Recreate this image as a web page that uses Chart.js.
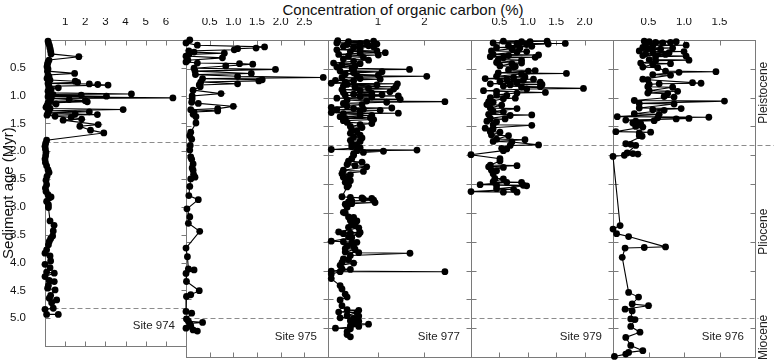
<!DOCTYPE html>
<html>
<head>
<meta charset="utf-8">
<script src="https://cdn.jsdelivr.net/npm/chart.js@4.4.1/dist/chart.umd.min.js"></script>
<style>
  body { margin: 0; background: #fff; }
  #wrap { position: relative; width: 774px; height: 364px; font-family: "Liberation Sans", Arial, sans-serif; }
  #wrap canvas { position: absolute; left: 0; top: 0; }
  #title { position: absolute; left: 0; top: 1px; width: 806px; text-align: center; font-size: 15px; color: #111; }
</style>
</head>
<body>
<div id="wrap">
  <div id="title">Concentration of organic carbon (%)</div>
  <canvas id="c0" width="774" height="364"></canvas>
  <canvas id="c1" width="774" height="364"></canvas>
  <canvas id="c2" width="774" height="364"></canvas>
  <canvas id="c3" width="774" height="364"></canvas>
  <canvas id="c4" width="774" height="364"></canvas>
</div>
<script>
// [age (Myr), organic carbon (%)], one list per site

const site974 = [
  [0.02,0.15],[0.06,0.18],[0.10,0.22],[0.15,0.25],[0.20,0.28],[0.25,0.3],[0.30,1.68],[0.36,0.2],[0.40,0.15],[0.44,0.12],
  [0.48,0.1],[0.52,0.15],[0.56,0.12],[0.60,1.47],[0.63,0.15],[0.66,0.2],[0.69,0.1],[0.72,0.25],[0.74,1.5],[0.76,1.62],
  [0.78,0.15],[0.79,2.2],[0.80,2.62],[0.81,3.13],[0.83,0.2],[0.86,0.66],[0.89,0.3],[0.92,0.15],[0.95,0.25],[0.97,4.29],
  [0.98,0.4],[0.99,1.8],[1.00,0.2],[1.01,3.05],[1.02,0.15],[1.04,6.35],[1.05,0.3],[1.07,1.2],[1.09,2.0],[1.10,0.25],
  [1.11,2.1],[1.13,0.15],[1.15,0.55],[1.18,0.1],[1.21,0.05],[1.23,0.25],[1.25,3.88],[1.27,0.2],[1.29,2.2],[1.31,0.15],
  [1.33,1.5],[1.34,2.6],[1.35,0.1],[1.37,0.5],[1.39,1.3],[1.42,1.82],[1.44,0.9],[1.52,2.64],[1.55,1.73],[1.62,2.26],
  [1.67,2.92],[1.80,0.08],[1.86,0.03],[1.91,0.0],[1.96,0.02],[2.02,0.05],[2.08,0.03],[2.14,0.0],[2.20,0.02],[2.26,0.08],
  [2.33,0.15],[2.38,0.2],[2.45,0.1],[2.52,0.05],[2.60,0.08],[2.66,0.02],[2.72,0.05],[2.78,0.15],[2.82,0.3],[2.84,0.21],
  [2.90,0.08],[2.96,0.17],[3.01,0.17],[3.25,0.25],[3.33,0.45],[3.43,0.41],[3.52,0.38],[3.57,0.28],[3.62,0.21],[3.68,0.17],
  [3.77,0.08],[3.83,0.0],[3.88,0.25],[3.97,0.28],[4.03,0.0],[4.09,0.25],[4.17,0.08],[4.19,0.46],[4.25,0.0],[4.32,0.21],
  [4.34,0.46],[4.41,0.17],[4.46,0.13],[4.49,0.5],[4.59,0.28],[4.64,0.21],[4.67,0.58],[4.72,0.33],[4.82,0.41],[4.84,0.0],
  [4.93,0.08],[4.93,0.66]
];

const site975 = [
  [0.00,0.08],[0.05,0.0],[0.09,0.24],[0.12,1.66],[0.14,1.48],[0.15,1.09],[0.17,1.02],[0.19,0.06],[0.21,0.17],[0.23,0.81],
  [0.25,0.06],[0.28,0.0],[0.31,0.77],[0.35,0.04],[0.38,0.0],[0.40,0.24],[0.41,1.13],[0.42,1.41],[0.45,0.84],[0.49,0.17],
  [0.51,1.89],[0.54,0.19],[0.58,1.38],[0.60,0.2],[0.63,1.09],[0.65,2.9],[0.67,0.35],[0.69,1.61],[0.71,1.54],[0.73,0.31],
  [0.76,1.09],[0.78,0.28],[0.81,0.3],[0.87,0.15],[0.93,0.74],[0.97,0.13],[1.02,0.13],[1.08,0.12],[1.10,0.26],[1.15,1.0],
  [1.19,0.67],[1.21,0.1],[1.23,0.67],[1.25,0.17],[1.29,0.15],[1.33,0.21],[1.44,0.21],[1.60,0.1],[1.66,0.08],[1.72,0.12],
  [1.83,0.09],[1.91,0.08],[2.03,0.1],[2.07,0.12],[2.15,0.15],[2.22,0.13],[2.26,0.15],[2.33,0.16],[2.38,0.19],[2.41,0.1],
  [2.54,0.08],[2.70,0.06],[2.77,0.26],[2.93,0.02],[3.07,0.08],[3.18,0.05],[3.32,0.29],[3.61,0.0],[3.76,0.03],[3.97,0.05],
  [3.99,0.17],[4.05,0.0],[4.19,0.01],[4.35,0.28],[4.42,0.1],[4.45,0.01],[4.71,0.0],[4.74,0.12],[4.84,0.01],[4.88,0.05],
  [4.90,0.35],[4.92,0.08],[4.96,0.1],[5.00,0.0],[5.03,0.15],[5.05,0.24]
];

const site977 = [
  [0.01,0.14],[0.02,0.91],[0.03,0.37],[0.04,0.76],[0.05,0.12],[0.06,0.62],[0.07,0.98],[0.08,0.34],[0.10,0.8],[0.11,0.26],
  [0.12,0.91],[0.13,0.48],[0.15,0.62],[0.17,0.12],[0.19,0.98],[0.20,0.41],[0.22,1.16],[0.23,0.62],[0.25,0.16],[0.26,1.01],
  [0.28,0.37],[0.30,0.69],[0.33,0.26],[0.35,0.8],[0.37,0.48],[0.40,0.05],[0.41,0.62],[0.43,0.23],[0.45,0.51],[0.47,0.12],
  [0.49,0.45],[0.51,1.68],[0.52,0.48],[0.54,0.19],[0.55,1.09],[0.57,0.48],[0.59,0.3],[0.61,1.01],[0.62,0.55],[0.63,2.05],
  [0.65,0.23],[0.67,0.62],[0.68,1.05],[0.70,0.09],[0.71,0.48],[0.73,0.3],[0.75,0.0],[0.76,1.42],[0.77,0.34],[0.78,0.98],
  [0.80,0.26],[0.81,1.39],[0.82,0.51],[0.84,0.8],[0.85,1.34],[0.86,0.23],[0.88,0.62],[0.90,1.26],[0.91,0.26],[0.92,0.87],
  [0.94,0.48],[0.95,1.09],[0.96,0.3],[0.97,1.44],[0.98,0.62],[0.99,0.87],[1.01,0.12],[1.03,1.48],[1.04,0.34],[1.06,0.76],
  [1.07,2.44],[1.08,1.19],[1.10,0.26],[1.12,0.66],[1.15,0.34],[1.17,0.0],[1.18,1.3],[1.19,0.48],[1.20,0.69],[1.21,0.12],
  [1.22,1.05],[1.24,0.62],[1.26,0.0],[1.27,1.44],[1.28,0.26],[1.30,0.62],[1.31,0.87],[1.33,0.19],[1.35,0.84],[1.36,0.3],
  [1.38,0.91],[1.40,0.26],[1.43,0.34],[1.45,0.87],[1.47,0.62],[1.50,0.41],[1.52,0.66],[1.56,0.44],[1.58,0.55],[1.62,0.41],
  [1.65,0.62],[1.68,0.48],[1.70,0.66],[1.74,0.41],[1.76,0.62],[1.80,0.44],[1.82,0.55],[1.85,0.44],[1.87,0.62],[1.90,0.0],
  [1.91,1.84],[1.92,0.55],[1.93,1.12],[1.95,0.69],[1.97,0.48],[2.00,0.48],[2.06,0.44],[2.10,0.37],[2.12,0.66],[2.16,0.34],
  [2.18,0.51],[2.20,0.76],[2.26,0.26],[2.28,0.69],[2.32,0.23],[2.34,0.41],[2.38,0.26],[2.40,0.34],[2.44,0.41],[2.47,0.3],
  [2.52,0.37],[2.55,0.34],[2.72,0.23],[2.73,0.41],[2.74,0.66],[2.75,0.87],[2.76,0.69],[2.78,0.91],[2.79,0.44],[2.81,0.37],
  [2.82,0.94],[2.84,0.44],[2.85,0.3],[2.90,0.34],[2.99,0.26],[3.00,0.3],[3.07,0.37],[3.08,0.48],[3.13,0.41],[3.14,0.55],
  [3.19,0.44],[3.20,0.51],[3.25,0.37],[3.26,0.59],[3.33,0.16],[3.34,0.62],[3.35,0.41],[3.36,0.26],[3.37,0.59],[3.42,0.37],
  [3.43,0.44],[3.49,0.0],[3.50,0.26],[3.51,0.55],[3.52,0.44],[3.57,0.34],[3.58,0.48],[3.62,0.3],[3.63,0.51],[3.68,0.3],
  [3.69,0.59],[3.70,1.69],[3.74,0.41],[3.80,0.26],[3.81,0.37],[3.86,0.23],[3.87,0.48],[3.91,0.19],[3.97,0.23],[3.98,0.41],
  [4.01,0.0],[4.02,2.44],[4.02,0.19],[4.06,0.0],[4.14,0.0],[4.26,0.19],[4.32,0.23],[4.41,0.3],[4.46,0.34],[4.51,0.19],
  [4.61,0.23],[4.68,0.34],[4.69,0.59],[4.72,0.16],[4.73,0.55],[4.78,0.34],[4.79,0.59],[4.82,0.19],[4.83,0.48],[4.87,0.41],
  [4.88,0.59],[4.92,0.48],[4.93,0.8],[4.96,0.41],[4.97,0.59],[5.00,0.09],[5.01,0.41],[5.06,0.34],[5.11,0.34],[5.15,0.41]
];

const site979 = [
  [0.02,0.57],[0.02,1.34],[0.03,0.89],[0.03,1.04],[0.05,0.39],[0.06,1.66],[0.06,0.81],[0.07,1.36],[0.08,0.98],[0.10,0.66],
  [0.11,1.07],[0.13,0.45],[0.14,0.86],[0.15,0.72],[0.19,0.36],[0.20,0.98],[0.21,0.81],[0.25,0.39],[0.26,1.19],[0.27,0.66],
  [0.29,0.34],[0.30,1.13],[0.31,0.57],[0.34,0.48],[0.35,0.89],[0.39,0.45],[0.40,0.89],[0.41,0.72],[0.45,0.51],[0.46,0.78],
  [0.47,0.75],[0.52,0.66],[0.53,1.13],[0.54,1.01],[0.57,0.48],[0.58,1.68],[0.59,0.89],[0.63,0.45],[0.64,0.95],[0.65,0.75],
  [0.67,0.25],[0.68,1.1],[0.69,0.63],[0.70,0.92],[0.72,0.51],[0.73,1.22],[0.74,0.81],[0.76,0.34],[0.77,1.25],[0.78,0.69],
  [0.80,0.57],[0.81,1.22],[0.82,0.89],[0.84,1.98],[0.85,0.98],[0.88,0.22],[0.89,0.45],[0.91,1.31],[0.92,0.81],[0.95,0.45],
  [0.96,0.63],[1.00,0.34],[1.01,0.78],[1.02,0.57],[1.07,0.31],[1.08,0.39],[1.12,0.28],[1.13,0.54],[1.18,0.34],[1.19,0.81],
  [1.24,0.39],[1.25,0.57],[1.29,0.31],[1.30,1.07],[1.31,0.69],[1.36,0.34],[1.37,0.6],[1.41,0.28],[1.42,0.45],[1.47,0.39],
  [1.48,1.07],[1.53,0.25],[1.54,0.39],[1.59,0.34],[1.60,0.51],[1.65,0.36],[1.66,0.66],[1.72,0.45],[1.73,0.95],[1.76,0.39],
  [1.77,0.72],[1.82,1.19],[1.83,0.69],[1.88,0.54],[1.89,0.63],[1.92,0.57],[1.99,0.0],[2.06,0.51],[2.10,0.51],[2.17,0.34],
  [2.18,0.81],[2.20,0.31],[2.21,0.57],[2.26,0.36],[2.27,0.45],[2.32,0.39],[2.40,0.42],[2.41,0.57],[2.46,0.39],[2.47,0.89],
  [2.47,0.63],[2.51,0.16],[2.52,0.92],[2.52,0.45],[2.53,0.98],[2.58,0.45],[2.59,0.75],[2.63,0.0],[2.64,0.81],[2.64,0.57]
];

const site976 = [
  [0.02,0.44],[0.03,0.89],[0.03,0.51],[0.04,0.81],[0.04,0.6],[0.05,0.7],[0.08,0.46],[0.09,1.03],[0.10,0.56],[0.13,0.42],
  [0.14,0.84],[0.15,0.49],[0.16,0.67],[0.19,0.37],[0.20,1.0],[0.21,0.56],[0.22,0.79],[0.24,0.46],[0.25,0.74],[0.27,0.42],
  [0.28,1.03],[0.29,0.6],[0.34,0.51],[0.35,1.07],[0.36,0.6],[0.40,0.39],[0.41,0.81],[0.42,0.56],[0.47,0.42],[0.48,0.63],
  [0.54,0.74],[0.55,1.45],[0.56,0.93],[0.60,0.56],[0.61,0.81],[0.68,0.42],[0.69,0.49],[0.74,1.12],[0.75,1.24],[0.76,0.65],
  [0.77,0.51],[0.81,0.49],[0.82,0.84],[0.88,0.51],[0.89,0.91],[0.92,0.49],[0.93,0.77],[0.98,0.72],[0.99,0.86],[1.05,0.3],
  [1.06,1.57],[1.10,0.37],[1.11,0.86],[1.18,0.37],[1.19,0.96],[1.21,0.56],[1.22,0.72],[1.28,0.3],[1.29,0.65],[1.33,0.06],
  [1.34,1.35],[1.35,0.63],[1.36,1.07],[1.37,0.89],[1.39,0.18],[1.40,0.58],[1.41,0.32],[1.44,0.28],[1.45,0.39],[1.50,0.32],
  [1.51,0.42],[1.59,0.04],[1.60,0.53],[1.61,0.37],[1.66,0.37],[1.67,0.41],[1.80,0.18],[1.81,0.25],[1.83,0.32],[1.96,0.2],
  [1.97,0.28],[1.98,0.35],[2.00,0.16],[2.02,0.0],[3.22,0.1],[3.28,0.0],[3.36,0.05],[3.41,0.22],[3.59,0.74],[3.60,0.44],
  [3.61,0.17],[3.77,0.13],[4.38,0.22],[4.46,0.36],[4.58,0.27],[4.61,0.5],[4.67,0.17],[4.70,0.27],[4.84,0.25],[4.85,0.31],
  [4.97,0.25],[5.07,0.38],[5.16,0.18],[5.30,0.25],[5.39,0.42],[5.42,0.22],[5.45,0.18],[5.49,0.02]
];

const siteNames = ['Site 974', 'Site 975', 'Site 977', 'Site 979', 'Site 976'];
const siteData = [site974, site975, site977, site979, site976];

// x axis of each panel
const tocMin = [0, 0, -0.07, 0, 0];
const tocMax = [7, 3, 3, 2.5, 2];
const tocTicks = [[1, 2, 3, 4, 5, 6], [0.5, 1, 1.5, 2, 2.5], [1, 2], [0.5, 1, 1.5, 2], [0.5, 1, 1.5]];
const tocTickLabels = [
  ['1', '2', '3', '4', '5', '6'],
  ['0.5', '1.0', '1.5', '2.0', '2.5'],
  ['1', '2'],
  ['0.5', '1.0', '1.5', '2.0'],
  ['0.5', '1.0', '1.5']
];

// shared age axis
const ageTitle = 'Sediment age (Myr)';
const ageMax = 5.5;
const ageTicks = [0.5, 1.0, 1.5, 2.0, 2.5, 3.0, 3.5, 4.0, 4.5, 5.0];
const ageTickLabels = ['0.5', '1.0', '1.5', '2.0', '2.5', '3.0', '3.5', '4.0', '4.5', '5.0'];

const epochNames = ['Pleistocene', 'Pliocene', 'Miocene'];
const epochBounds = [0, 1.83, 4.82, ageMax];

// panel edges in pixels (layout only)
const edges = [45, 186, 328, 471, 613, 755];

const FONT = '"Liberation Sans", Arial, sans-serif';
Chart.defaults.font.family = FONT;
Chart.defaults.color = '#111';

function decor(i) {
  return {
    id: 'decor' + i,
    beforeDatasetsDraw(chart) {
      const { ctx, chartArea: a, scales: { x, y } } = chart;
      const L = Math.round(a.left) + 0.5, R = Math.round(a.right) + 0.5;
      const T = Math.round(a.top) + 0.5, B = Math.round(a.bottom) + 0.5;
      ctx.save();
      ctx.strokeStyle = '#8c8c8c';
      ctx.lineWidth = 1;

      // epoch boundaries
      ctx.setLineDash([5, 3]);
      epochBounds.slice(1, -1).forEach((b, k) => {
        const py = Math.round(y.getPixelForValue(b)) + 0.5;
        const end = i === 4 ? (k === 0 ? chart.width : R + 3) : R;
        ctx.beginPath();
        ctx.moveTo(L, py);
        ctx.lineTo(end, py);
        ctx.stroke();
      });
      ctx.setLineDash([]);

      ctx.strokeStyle = '#7a7a7a';
      ctx.strokeRect(L, T, R - L, B - T);

      ctx.beginPath();
      tocTicks[i].forEach(v => {
        const px = Math.round(x.getPixelForValue(v)) + 0.5;
        ctx.moveTo(px, T); ctx.lineTo(px, T + 5);
        ctx.moveTo(px, B); ctx.lineTo(px, B - 5);
      });
      ageTicks.forEach(v => {
        const py = Math.round(y.getPixelForValue(v)) + 0.5;
        ctx.moveTo(L, py); ctx.lineTo(L + 5, py);
        ctx.moveTo(R, py); ctx.lineTo(R - 5, py);
      });
      ctx.stroke();
      ctx.restore();
    },
    afterDatasetsDraw(chart) {
      const { ctx, chartArea: a, scales: { y } } = chart;
      ctx.save();
      ctx.fillStyle = '#222';
      ctx.font = '11.5px ' + FONT;
      ctx.textAlign = 'right';
      ctx.textBaseline = 'middle';
      ctx.fillText(siteNames[i], a.right - 11, a.bottom - 20);

      if (i === 0) {
        ctx.fillStyle = '#111';
        ctx.font = '15px ' + FONT;
        ctx.textAlign = 'center';
        ctx.save();
        ctx.translate(9, (a.top + a.bottom) / 2);
        ctx.rotate(-Math.PI / 2);
        ctx.fillText(ageTitle, 0, 0);
        ctx.restore();
      }

      if (i === 4) {
        ctx.font = '12px ' + FONT;
        ctx.textAlign = 'center';
        epochNames.forEach((name, k) => {
          const mid = (y.getPixelForValue(epochBounds[k]) + y.getPixelForValue(epochBounds[k + 1])) / 2;
          ctx.save();
          ctx.translate(a.right + 9, mid);
          ctx.rotate(-Math.PI / 2);
          ctx.fillText(name, 0, 0);
          ctx.restore();
        });
      }
      ctx.restore();
    }
  };
}

siteData.forEach((rows, i) => {
  const first = i === 0;
  new Chart(document.getElementById('c' + i), {
    type: 'scatter',
    data: {
      datasets: [{
        data: rows.map(r => ({ x: r[1], y: r[0] })),
        showLine: true,
        borderColor: '#000',
        borderWidth: 1.1,
        pointRadius: 3.4,
        pointBackgroundColor: '#000',
        pointBorderWidth: 0,
        clip: false
      }]
    },
    options: {
      responsive: false,
      animation: false,
      events: [],
      layout: {
        padding: { left: first ? 0 : edges[i], right: 774 - edges[i + 1], top: 18, bottom: 7 }
      },
      plugins: { legend: { display: false }, tooltip: { enabled: false } },
      scales: {
        x: {
          type: 'linear',
          position: 'top',
          min: tocMin[i],
          max: tocMax[i],
          grid: { display: false },
          border: { display: false },
          afterBuildTicks: s => { s.ticks = tocTicks[i].map(v => ({ value: v })); },
          afterFit: s => { s.height = 22; },
          ticks: {
            autoSkip: false,
            maxRotation: 0,
            padding: 3,
            font: { size: 11.5 },
            callback: v => tocTickLabels[i][tocTicks[i].indexOf(v)]
          }
        },
        y: {
          type: 'linear',
          reverse: true,
          min: 0,
          max: ageMax,
          display: first,
          grid: { display: false },
          border: { display: false },
          afterBuildTicks: s => { s.ticks = ageTicks.map(v => ({ value: v })); },
          afterFit: s => { s.width = first ? 45 : 0; },
          ticks: {
            autoSkip: false,
            padding: 11,
            font: { size: 11.5 },
            callback: v => ageTickLabels[ageTicks.indexOf(v)]
          }
        }
      }
    },
    plugins: [decor(i)]
  });
});
</script>
</body>
</html>
